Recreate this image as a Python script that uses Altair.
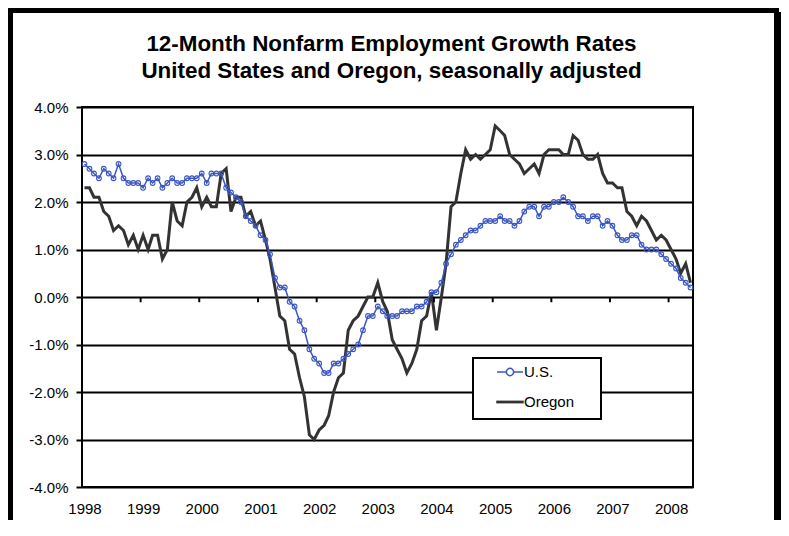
import altair as alt
import pandas as pd

# ---------------- data ----------------
series_names = ["U.S.", "Oregon"]
series_colors = ["#3A56C0", "#333333"]

years = list(range(1998, 2009))
y_ticks = [-4, -3, -2, -1, 0, 1, 2, 3, 4]

us_values = [
    2.8, 2.7, 2.6, 2.5, 2.7, 2.6, 2.5, 2.8, 2.5, 2.4, 2.4, 2.4,      # 1998
    2.3, 2.5, 2.4, 2.5, 2.3, 2.4, 2.5, 2.4, 2.4, 2.5, 2.5, 2.5,      # 1999
    2.6, 2.4, 2.6, 2.6, 2.6, 2.3, 2.2, 2.1, 2.0, 1.7, 1.6, 1.5,      # 2000
    1.3, 1.2, 0.9, 0.4, 0.2, 0.2, -0.1, -0.2, -0.5, -0.7, -1.1, -1.3,  # 2001
    -1.4, -1.6, -1.6, -1.4, -1.4, -1.3, -1.2, -1.1, -1.0, -0.7, -0.4, -0.4,  # 2002
    -0.2, -0.3, -0.4, -0.4, -0.4, -0.3, -0.3, -0.3, -0.2, -0.2, -0.1, 0.1,  # 2003
    0.1, 0.3, 0.7, 0.9, 1.1, 1.2, 1.3, 1.4, 1.4, 1.5, 1.6, 1.6,      # 2004
    1.6, 1.7, 1.6, 1.6, 1.5, 1.6, 1.8, 1.9, 1.9, 1.7, 1.9, 1.9,      # 2005
    2.0, 2.0, 2.1, 2.0, 1.9, 1.7, 1.7, 1.6, 1.7, 1.7, 1.5, 1.6,      # 2006
    1.5, 1.3, 1.2, 1.2, 1.3, 1.3, 1.1, 1.0, 1.0, 1.0, 0.9, 0.8,      # 2007
    0.7, 0.6, 0.4, 0.3, 0.2,                                          # 2008
]

oregon_values = [
    2.3, 2.3, 2.1, 2.1, 1.8, 1.7, 1.4, 1.5, 1.4, 1.1, 1.3, 1.0,      # 1998
    1.3, 1.0, 1.3, 1.3, 0.8, 1.0, 2.0, 1.6, 1.5, 2.0, 2.1, 2.3,      # 1999
    1.9, 2.1, 1.9, 1.9, 2.6, 2.7, 1.8, 2.1, 2.1, 1.7, 1.8, 1.5,      # 2000
    1.6, 1.2, 0.8, 0.2, -0.4, -0.5, -1.1, -1.2, -1.7, -2.1, -2.9, -3.0,  # 2001
    -2.8, -2.7, -2.5, -2.0, -1.7, -1.6, -0.7, -0.5, -0.4, -0.2, 0.0, 0.0,  # 2002
    0.3, -0.1, -0.3, -0.9, -1.1, -1.3, -1.6, -1.4, -1.1, -0.5, -0.4, 0.1,  # 2003
    -0.7, 0.0, 0.7, 1.9, 2.0, 2.6, 3.1, 2.9, 3.0, 2.9, 3.0, 3.1,     # 2004
    3.6, 3.5, 3.4, 3.0, 2.9, 2.8, 2.6, 2.7, 2.8, 2.6, 3.0, 3.1,      # 2005
    3.1, 3.1, 3.0, 3.0, 3.4, 3.3, 3.0, 2.9, 2.9, 3.0, 2.6, 2.4,      # 2006
    2.4, 2.3, 2.3, 1.8, 1.7, 1.5, 1.7, 1.6, 1.4, 1.2, 1.3, 1.2,      # 2007
    1.0, 0.8, 0.5, 0.7, 0.3,                                          # 2008
]

months = pd.date_range("1998-01-01", periods=len(us_values), freq="MS")

df = pd.DataFrame({"date": months, "us": us_values, "oregon": oregon_values})
df_long = pd.DataFrame({
    "date": list(months) * 2,
    "series": ["U.S."] * len(months) + ["Oregon"] * len(months),
    "value": us_values + oregon_values,
})
# category boundaries (Excel tick marks between Dec and Jan)
df_bounds = pd.DataFrame({"date": [pd.Timestamp(f"{y}-01-01") - pd.Timedelta(hours=372) for y in years]})
dummy = pd.DataFrame({"k": [0]})

FONT = "Liberation Sans"

x_scale = alt.Scale(domain=[alt.DateTime(year=1997, month=12, date=16, hours=12),
                            alt.DateTime(year=2008, month=5, date=16, hours=12)])
y_scale = alt.Scale(domain=[-4, 4], nice=False, zero=False)

x_axis = alt.Axis(values=[alt.DateTime(year=y, month=1, date=1) for y in years], format="%Y",
                  labelFlush=False, labelOverlap=False, ticks=False, domain=False, grid=False,
                  labelPadding=14, title=None, labelFont=FONT, labelFontSize=15, labelColor="black")
y_axis = alt.Axis(values=y_ticks, labelExpr="(datum.value < 0 ? '-' : '') + format(abs(datum.value), '.1f') + '%'",
                  grid=True, gridColor="black", gridWidth=2, gridOpacity=1, domain=False,
                  ticks=True, tickColor="black", tickWidth=2, tickSize=6, labelPadding=8,
                  title=None, labelFont=FONT, labelFontSize=15, labelColor="black")

base = alt.Chart(df)

oregon_line = base.mark_line(color=series_colors[1], strokeWidth=3).encode(
    x=alt.X("date:T", scale=x_scale, axis=x_axis),
    y=alt.Y("oregon:Q", scale=y_scale, axis=y_axis),
)
us_line = base.mark_line(color=series_colors[0], strokeWidth=1.5).encode(
    x=alt.X("date:T"), y=alt.Y("us:Q"))
us_points = base.mark_point(shape="circle", size=22, filled=False, color=series_colors[0],
                            strokeWidth=1.1, opacity=1).encode(
    x=alt.X("date:T"), y=alt.Y("us:Q"))

year_ticks = alt.Chart(df_bounds).mark_rule(color="black", strokeWidth=2).encode(
    x=alt.X("date:T"), y=alt.datum(0), y2=alt.datum(-0.11))

# legend box (white, black border)
legend_box = alt.Chart(dummy).mark_rect(fill="white", stroke="black", strokeWidth=2).encode(
    x=alt.value(391), x2=alt.value(519), y=alt.value(251), y2=alt.value(312))

us_sym = "M-1,0L-0.28,0M0.28,0L1,0M-0.28,0A0.28,0.28,0,1,1,0.28,0A0.28,0.28,0,1,1,-0.28,0Z"
or_sym = "M-1,-0.05L1,-0.05L1,0.05L-1,0.05Z"
leg = alt.Legend(title=None, orient="none", legendX=414, legendY=251, padding=0,
                 labelFont=FONT, labelFontSize=15, labelColor="black", labelOffset=0,
                 symbolSize=676, symbolStrokeWidth=1.5, symbolOpacity=1, rowPadding=8)
legend_layer = alt.Chart(df_long).transform_filter("false").mark_point(
    size=676, filled=False, strokeWidth=1.5, opacity=1).encode(
    x=alt.X("date:T"), y=alt.Y("value:Q"),
    color=alt.Color("series:N", scale=alt.Scale(domain=series_names, range=series_colors), legend=leg),
    shape=alt.Shape("series:N", scale=alt.Scale(domain=series_names, range=[us_sym, or_sym]), legend=leg),
)

# outer chart frame (thicker right edge)
frame = alt.Chart(dummy).mark_rect(fillOpacity=0, stroke="black", strokeWidth=5).encode(
    x=alt.value(-71.5), x2=alt.value(694.5), y=alt.value(-96.5), y2=alt.value(450))
shadow = alt.Chart(dummy).mark_rect(fill="black", strokeWidth=0).encode(
    x=alt.value(693), x2=alt.value(699), y=alt.value(-95), y2=alt.value(450))

chart = alt.layer(
    oregon_line, us_line, us_points, year_ticks, legend_box, legend_layer, frame, shadow
).properties(
    width=611, height=380,
    padding={"left": 74, "top": 99, "right": 88, "bottom": 33},
    autosize=alt.AutoSizeParams(type="none"),
    title=alt.TitleParams(
        text=["12-Month Nonfarm Employment Growth Rates", "United States and Oregon, seasonally adjusted"],
        font=FONT, fontSize=22.4, fontWeight="bold", color="black", anchor="middle", frame="group",
        lineHeight=27, offset=-74, dx=4),
    background="white",
).configure_view(stroke="black", strokeWidth=2)

chart.save("out.html", embed_options={"renderer": "svg", "actions": False})
